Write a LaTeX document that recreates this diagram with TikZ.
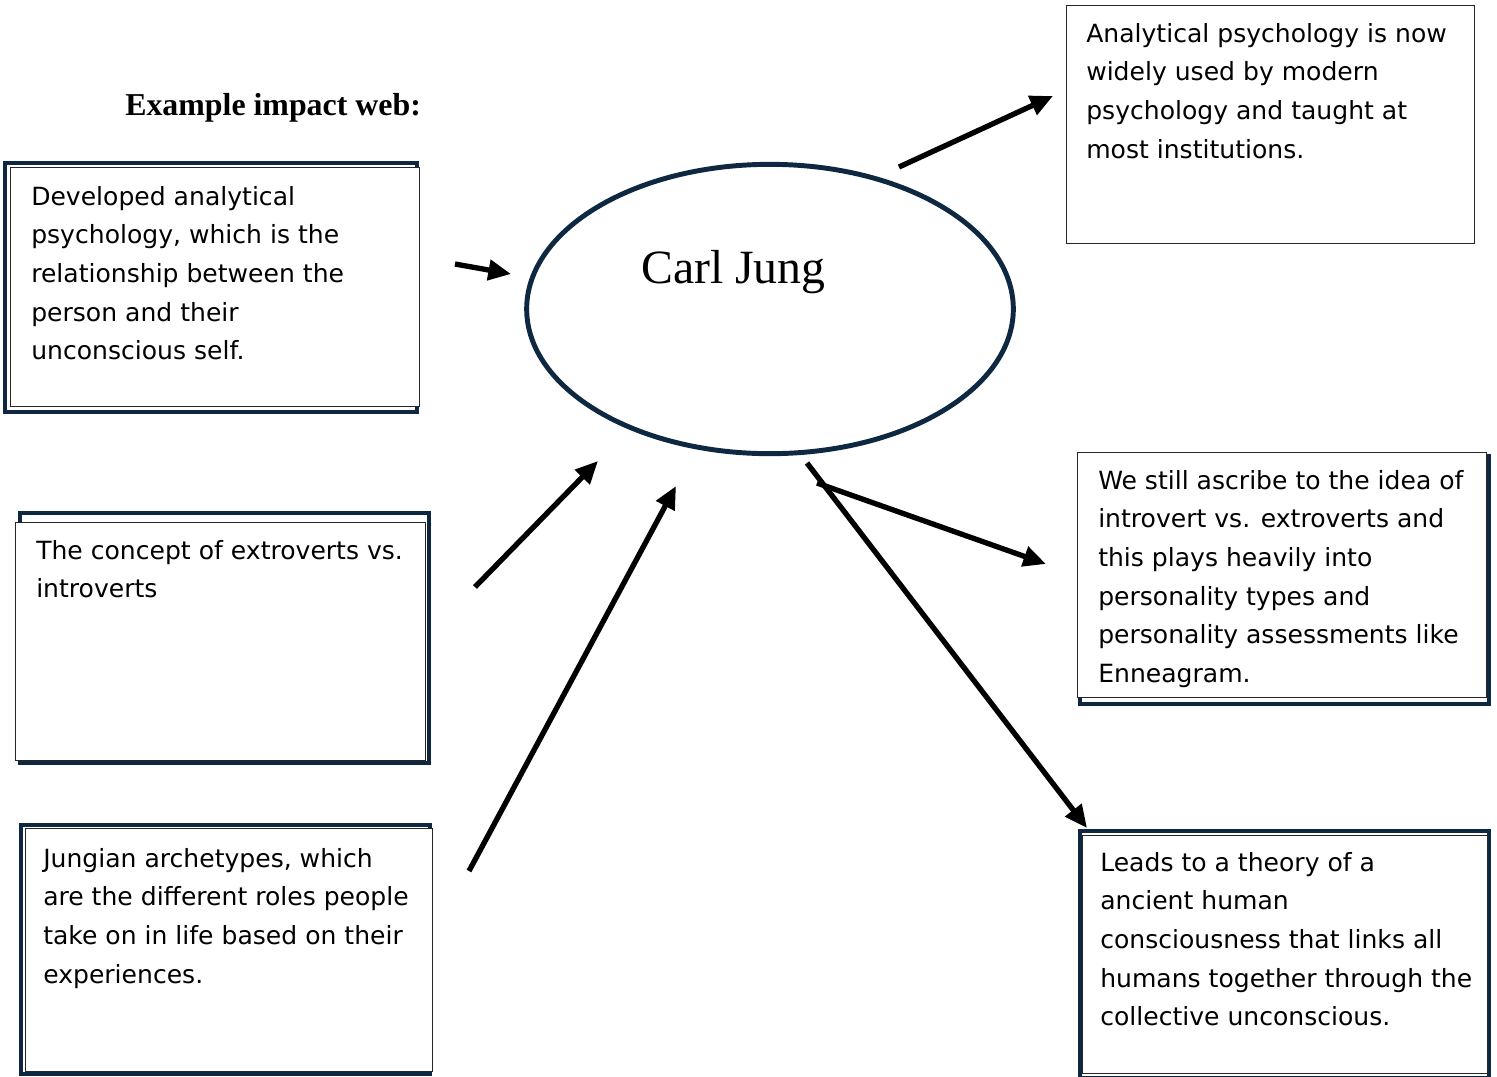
\documentclass[tikz,border=0pt]{standalone}
\usepackage{fontspec}
\usetikzlibrary{arrows.meta,shapes.geometric}
\newfontfamily\bodyfnt{DejaVu Sans}
\newfontfamily\serifnt{Liberation Serif}
\definecolor{navy}{HTML}{0E2841}
\newcommand{\bodytxt}{\bodyfnt\fontsize{18.8pt}{29pt}\selectfont}
\tikzset{
  frame/.style={draw=navy, line width=3.2pt},
  inbox/.style={draw=black!85, line width=0.8pt, fill=white, rectangle, anchor=north west, inner sep=0pt},
  bodytext/.style={anchor=base west, inner sep=0pt, font=\bodytxt},
  arr/.style={draw=black, line width=4pt, -{Triangle[length=17pt,width=15pt]}},
}
\begin{document}
\begin{tikzpicture}[x=0.75pt,y=-0.75pt]
\useasboundingbox (0,0) rectangle (1497,1076);
% title
\node[anchor=base west, inner sep=0pt, font=\serifnt\bfseries\fontsize{23.9pt}{28pt}\selectfont] (title) at (125,115) {Example impact web:};
% ellipse
\node[ellipse, draw=navy, line width=3.7pt, minimum width=365pt, minimum height=217pt, inner sep=0pt] (jung) at (770,309) {};
\node[anchor=base west, inner sep=0pt, font=\serifnt\fontsize{35.8pt}{40pt}\selectfont] (jungtxt) at (641,283) {Carl Jung};
% box 1
\draw[frame] (5,163) rectangle (417,412);
\node[inbox, minimum width=306.75pt, minimum height=179.25pt] (b1) at (10,167) {};
\node[bodytext] (t1) at (31,205) {\parbox[t]{330pt}{\raggedright Developed analytical\\psychology, which is the\\relationship between the\\person and their\\unconscious self.}};
% box 2
\draw[frame] (20,513) rectangle (429,763);
\node[inbox, minimum width=307.5pt, minimum height=178.5pt] (b2) at (15,522) {};
\node[bodytext] (t2) at (36,559) {\parbox[t]{330pt}{\raggedright The concept of extroverts vs.\\introverts}};
% box 3
\draw[frame] (21,825) rectangle (430,1074);
\node[inbox, minimum width=305.25pt, minimum height=182.25pt] (b3) at (25,828) {};
\node[bodytext] (t3) at (43,867) {\parbox[t]{330pt}{\raggedright Jungian archetypes, which\\are the different roles people\\take on in life based on their\\experiences.}};
% box 4
\draw[frame] (1080,456) rectangle (1489,704);
\node[inbox, minimum width=306.75pt, minimum height=183.75pt] (b4) at (1077,452) {};
\node[bodytext] (t4) at (1098,489) {\parbox[t]{330pt}{\raggedright We still ascribe to the idea of\\introvert vs. extroverts and\\this plays heavily into\\personality types and\\personality assessments like\\Enneagram.}};
% box 5
\draw[frame] (1080,831) rectangle (1489,1078);
\node[inbox, minimum width=303.75pt, minimum height=178.5pt] (b5) at (1082,835) {};
\node[bodytext] (t5) at (1100,871) {\parbox[t]{330pt}{\raggedright Leads to a theory of a\\ancient human\\consciousness that links all\\humans together through the\\collective unconscious.}};
% box 6
\node[inbox, line width=1pt, minimum width=306pt, minimum height=178.5pt] (b6) at (1066,5) {};
\node[bodytext] (t6) at (1086,42) {\parbox[t]{330pt}{\raggedright Analytical psychology is now\\widely used by modern\\psychology and taught at\\most institutions.}};
% arrow end points
\coordinate (a1s) at (455,264); \coordinate (a1e) at (511,274);
\coordinate (a2s) at (899,167); \coordinate (a2e) at (1053,96);
\coordinate (a3s) at (475,587); \coordinate (a3e) at (598,461);
\coordinate (a4s) at (469,871); \coordinate (a4e) at (676,486);
\coordinate (a5s) at (807,463); \coordinate (a5e) at (1087,828);
\coordinate (a6s) at (817,483); \coordinate (a6e) at (1046,564);
\draw[arr] (a1s) -- (a1e);
\draw[arr] (a2s) -- (a2e);
\draw[arr] (a3s) -- (a3e);
\draw[arr] (a4s) -- (a4e);
\draw[arr] (a5s) -- (a5e);
\draw[arr] (a6s) -- (a6e);
\end{tikzpicture}
\end{document}
